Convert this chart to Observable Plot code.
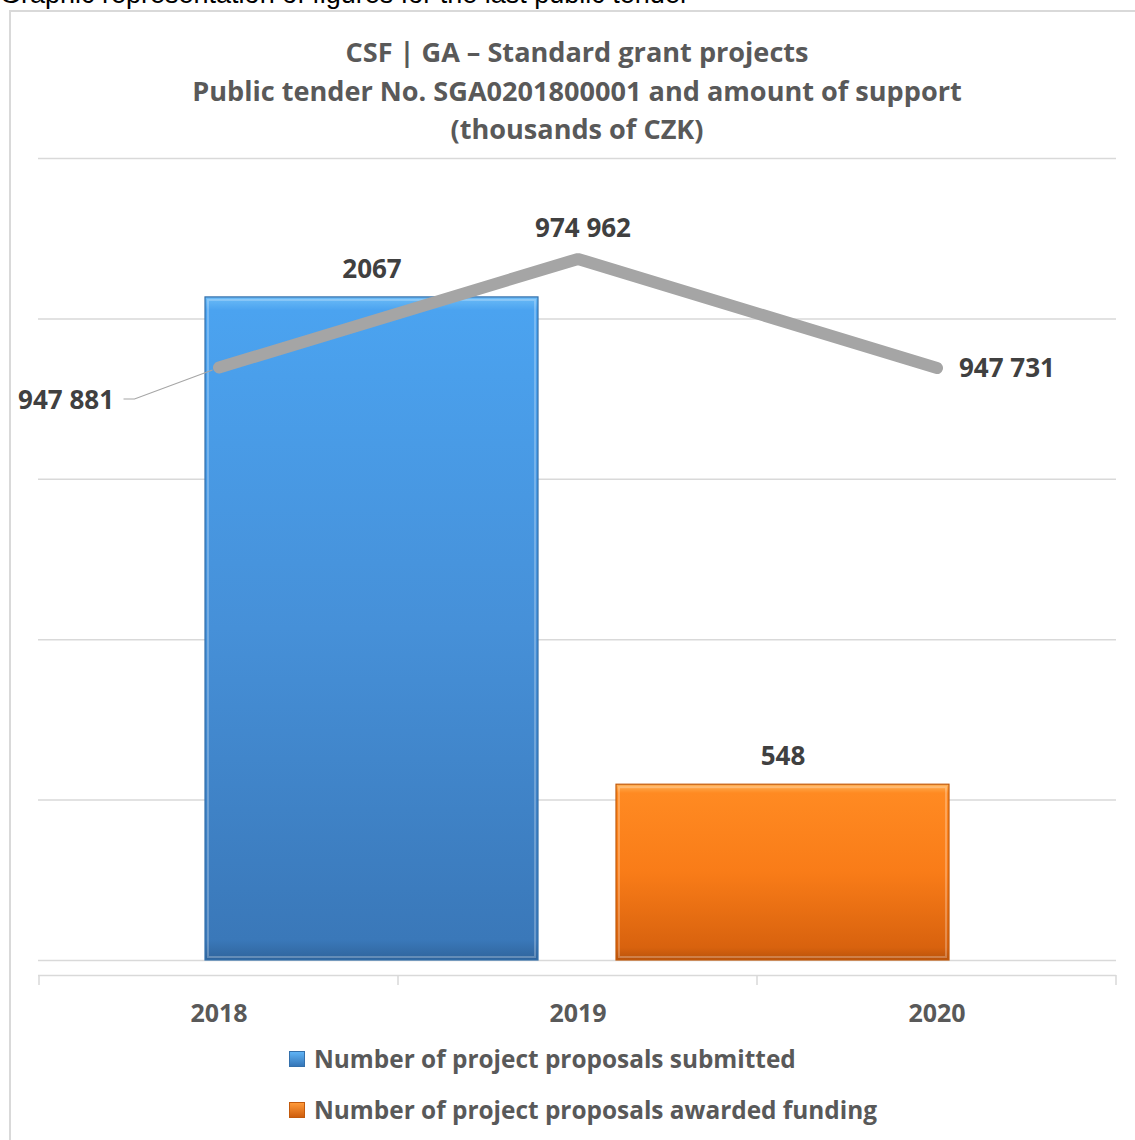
<!DOCTYPE html>
<html>
<head>
<meta charset="utf-8">
<script src="https://cdn.jsdelivr.net/npm/d3@7"></script>
<script src="https://cdn.jsdelivr.net/npm/@observablehq/plot@0.6"></script>
<style>
  html, body { margin: 0; padding: 0; background: #fff; }
  body { width: 1135px; height: 1140px; overflow: hidden; position: relative; font-family: "Open Sans", Lato, sans-serif; }
  #pre { position: absolute; left: 0; top: -19px; font: 27px/27px "Liberation Sans", Arial, sans-serif; color: #000; white-space: nowrap; }
  #frame { position: absolute; left: 9px; top: 10px; width: 1200px; height: 1200px; border: 2px solid #d9d9d9; box-sizing: border-box; }
  #title { position: absolute; left: 38px; top: 33px; width: 1078px; text-align: center; font-weight: 700; font-size: 27.1px; line-height: 38.5px; color: #595959; }
  #chart { position: absolute; left: 0; top: 140px; width: 1135px; height: 900px; }
  #chart svg { position: absolute; left: 0; top: 0; }
  #legend { position: absolute; left: 289px; top: 1033px; color: #595959; font-weight: 700; font-size: 24.4px; }
  .row { height: 51px; display: flex; align-items: center; }
  .sw { width: 16px; height: 16px; margin-right: 9px; box-sizing: border-box; }
</style>
</head>
<body>
<div id="pre">Graphic representation of figures for the last public tender</div>
<div id="frame"></div>
<div id="title"></div>
<div id="chart"></div>
<div id="legend"></div>
<script>
// ---- data ----
const titleLines = ["CSF | GA – Standard grant projects", "Public tender No. SGA0201800001 and amount of support", "(thousands of CZK)"];
const years = ["2018", "2019", "2020"];
const support = [947881, 974962, 947731];          // thousands of CZK (line, secondary axis)
const barSeries = ["Number of project proposals submitted", "Number of project proposals awarded funding"];
const barValues = [2067, 548];
const barGradIds = ["gradBlue", "gradOrange"];
const barStrokes = ["#3470ab", "#c25a0d"];
const gridTicks = [0, 500, 1000, 1500, 2000, 2500];

// ---- layout ----
const W = 1135, H = 900, ML = 38, MR = 19, MT = 18, MB = 80;
const FONT = "Open Sans";
const LBL = 26;
const fmt = v => d3.format(",")(v).replace(/,/g, " ");

document.getElementById("title").innerHTML = titleLines.map(t => `<div>${t}</div>`).join("");

const bars = barSeries.map((s, i) => ({series: s, value: barValues[i], fill: `url(#${barGradIds[i]})`, stroke: barStrokes[i]}));
const line = years.map((y, i) => ({year: y, value: support[i]}));

const barPlot = Plot.plot({
  width: W, height: H, marginLeft: ML, marginRight: MR, marginTop: MT, marginBottom: MB,
  style: {background: "transparent", overflow: "visible"},
  x: {type: "band", domain: barSeries, paddingInner: 0.19, paddingOuter: 0.405, axis: null},
  y: {domain: [0, 2500], axis: null},
  color: {type: "identity"},
  marks: [
    Plot.ruleY(gridTicks, {stroke: "#d9d9d9", strokeWidth: 1.5}),
    Plot.barY(bars, {x: "series", y: "value", fill: "fill", stroke: "stroke", strokeWidth: 1.2}),
    Plot.barY(bars, {x: "series", y: "value", fill: "none", stroke: "#ffffff", strokeOpacity: 0.25, strokeWidth: 2, inset: 3}),
    Plot.text(bars, {x: "series", y: "value", text: d => String(d.value), dy: -28, fontSize: LBL, fontWeight: 700, fill: "#404040", fontFamily: FONT})
  ]
});

// gradients
const defs = d3.select(barPlot).insert("defs", ":first-child");
function grad(id, stops) {
  const g = defs.append("linearGradient").attr("id", id).attr("x1", 0).attr("y1", 0).attr("x2", 0).attr("y2", 1);
  stops.forEach(([o, c]) => g.append("stop").attr("offset", o).attr("stop-color", c));
}
grad("gradBlue", [[0, "#6cbcf7"], [0.02, "#4ba3f0"], [0.5, "#4690d8"], [0.97, "#3a78b9"], [1, "#2f649c"]]);
grad("gradOrange", [[0, "#ffb257"], [0.05, "#ff8a22"], [0.5, "#f97c18"], [0.93, "#d8620e"], [1, "#b9520a"]]);

const linePlot = Plot.plot({
  width: W, height: H, marginLeft: ML, marginRight: MR, marginTop: MT, marginBottom: MB,
  style: {background: "transparent", overflow: "visible"},
  x: {type: "band", domain: years, padding: 0, axis: null},
  y: {domain: [800000, 1000000], axis: null},
  marks: [
    Plot.ruleY([800000], {dy: 15, stroke: "#d9d9d9", strokeWidth: 1.5}),
    Plot.line(line, {x: "year", y: "value", stroke: "#a5a5a5", strokeWidth: 12, strokeLinecap: "round", strokeLinejoin: "miter"}),
    Plot.text(line.filter(d => d.year === "2019"), {x: "year", y: "value", text: d => fmt(d.value), dy: -30, dx: 5, fontSize: LBL, fontWeight: 700, fill: "#404040", fontFamily: FONT}),
    Plot.text(line.filter(d => d.year === "2020"), {x: "year", y: "value", text: d => fmt(d.value), dx: 22, dy: 1, textAnchor: "start", fontSize: LBL, fontWeight: 700, fill: "#404040", fontFamily: FONT}),
    Plot.text(line.filter(d => d.year === "2018"), {x: "year", y: "value", text: d => fmt(d.value), dx: -105, dy: 33, textAnchor: "end", fontSize: LBL, fontWeight: 700, fill: "#404040", fontFamily: FONT}),
    Plot.text(years, {x: d => d, frameAnchor: "bottom", lineAnchor: "middle", dy: 53, fontSize: 25, fontWeight: 700, fill: "#595959", fontFamily: FONT})
  ]
});

// axis ticks at category boundaries and leader line, placed through the plot's scales
const sx = linePlot.scale("x"), sy = linePlot.scale("y");
const svgL = d3.select(linePlot);
const base = H - MB + 15;
const edges = years.map(y => sx.apply(y)).concat([sx.apply(years[years.length - 1]) + sx.step]);
svgL.append("g").selectAll("line").data(edges).join("line")
  .attr("x1", d => d).attr("x2", d => d).attr("y1", base).attr("y2", base + 10)
  .attr("stroke", "#d9d9d9").attr("stroke-width", 1.5);
const p0x = sx.apply(years[0]) + sx.bandwidth / 2, p0y = sy.apply(support[0]);
svgL.append("polyline")
  .attr("points", [[p0x - 6, p0y + 3], [p0x - 84, p0y + 32], [p0x - 95, p0y + 32]].map(p => p.join(",")).join(" "))
  .attr("fill", "none").attr("stroke", "#a6a6a6").attr("stroke-width", 1.2);
// keep the thick line above the leader
svgL.node().appendChild(svgL.select("g[aria-label=line]").node());

const chart = document.getElementById("chart");
chart.appendChild(barPlot);
chart.appendChild(linePlot);

// legend
const legendGrads = [["#5fb3f5", "#3576b8"], ["#ff9a3a", "#cf5e0d"]];
document.getElementById("legend").innerHTML = barSeries.map((s, i) =>
  `<div class="row"><div class="sw" style="background:linear-gradient(${legendGrads[i][0]},${legendGrads[i][1]});border:1px solid ${barStrokes[i]}"></div><span>${s}</span></div>`
).join("");
</script>
</body>
</html>
